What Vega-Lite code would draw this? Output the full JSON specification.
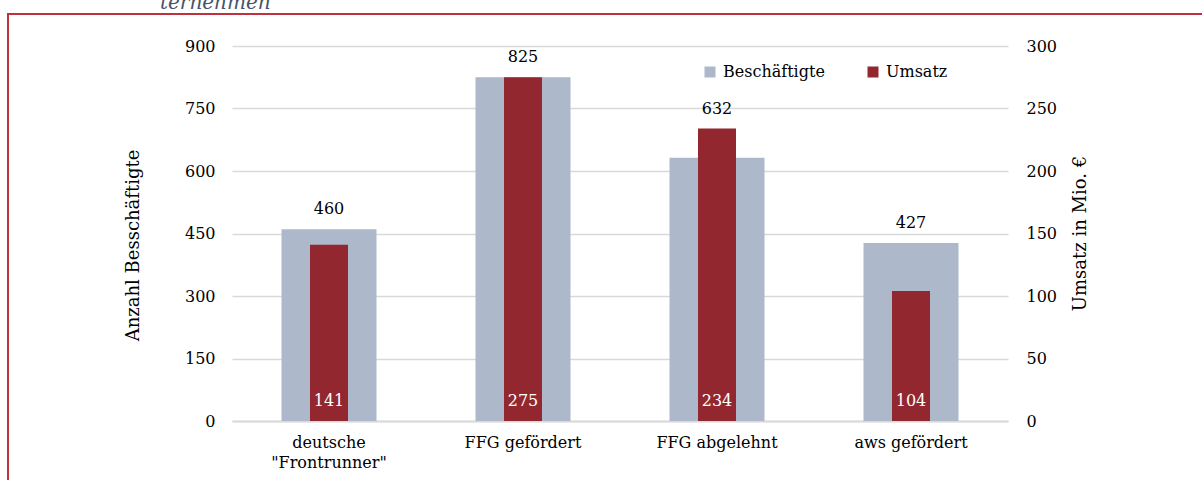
{
  "$schema": "https://vega.github.io/schema/vega-lite/v6.json",
  "width": 1198,
  "height": 470,
  "autosize": {"type": "none"},
  "padding": {"left": 8, "top": 14, "right": -4, "bottom": -4},
  "config": {
    "font": "DejaVu Serif",
    "view": {"stroke": "#C0313E", "strokeWidth": 2},
    "axis": {"labelFont": "DejaVu Serif", "titleFont": "DejaVu Serif", "labelFontSize": 16, "titleFontSize": 18, "labelColor": "#000000", "titleColor": "#000000", "titleFontWeight": "normal"},
    "legend": {"labelFont": "DejaVu Serif", "labelFontSize": 16, "labelColor": "#000000"}
  },
  "title": {
    "text": "ternehmen",
    "anchor": "start",
    "frame": "group",
    "dx": 152,
    "dy": 20,
    "offset": 5,
    "baseline": "alphabetic",
    "font": "DejaVu Serif",
    "fontStyle": "italic",
    "fontWeight": "normal",
    "fontSize": 20,
    "color": "#44546A"
  },
  "data": {
    "values": [
      {"kategorie": "deutsche \"Frontrunner\"", "beschaeftigte": 460, "umsatz": 141},
      {"kategorie": "FFG gefördert", "beschaeftigte": 825, "umsatz": 275},
      {"kategorie": "FFG abgelehnt", "beschaeftigte": 632, "umsatz": 234},
      {"kategorie": "aws gefördert", "beschaeftigte": 427, "umsatz": 104}
    ]
  },
  "encoding": {
    "x": {
      "field": "kategorie",
      "type": "nominal",
      "sort": null,
      "scale": {"range": [224, 1000], "paddingInner": 0, "paddingOuter": 0},
      "axis": {
        "orient": "bottom",
        "offset": -63,
        "title": null,
        "domainColor": "#D9D9D9",
        "domainWidth": 2,
        "ticks": false,
        "tickSize": 0,
        "grid": false,
        "labelAngle": 0,
        "labelPadding": 13,
        "labelBaseline": "top",
        "labelLineHeight": 20,
        "labelExpr": "datum.value == 'deutsche \"Frontrunner\"' ? ['deutsche', '\"Frontrunner\"'] : datum.label"
      }
    }
  },
  "layer": [
    {
      "mark": {"type": "bar", "size": 95},
      "encoding": {
        "y": {
          "field": "beschaeftigte",
          "type": "quantitative",
          "scale": {"domain": [0, 900], "range": [407, 32], "nice": false},
          "axis": {
            "orient": "left",
            "offset": -224,
            "values": [0, 150, 300, 450, 600, 750, 900],
            "grid": true,
            "gridColor": "#D9D9D9",
            "gridWidth": 1.5,
            "domain": false,
            "ticks": false,
            "tickSize": 0,
            "labelPadding": 17,
            "title": "Anzahl Besschäftigte",
            "titleX": -99,
            "titleY": 231,
            "titleAngle": -90,
            "titleAlign": "center",
            "titleBaseline": "middle"
          }
        },
        "color": {
          "datum": "Beschäftigte",
          "type": "nominal",
          "scale": {"domain": ["Beschäftigte", "Umsatz"], "range": ["#ADB9CA", "#93272F"]},
          "legend": {
            "title": null,
            "orient": "none",
            "legendX": 694,
            "legendY": 50,
            "direction": "horizontal",
            "symbolType": "square",
            "symbolSize": 121,
            "symbolStrokeWidth": 0,
            "labelOffset": 5,
            "columnPadding": 40,
            "padding": 0
          }
        }
      }
    },
    {
      "mark": {"type": "bar", "size": 38},
      "encoding": {
        "y": {
          "field": "umsatz",
          "type": "quantitative",
          "scale": {"domain": [0, 300], "range": [407, 32], "nice": false},
          "axis": {
            "orient": "right",
            "offset": -198,
            "values": [0, 50, 100, 150, 200, 250, 300],
            "grid": false,
            "domain": false,
            "ticks": false,
            "tickSize": 0,
            "labelPadding": 18,
            "title": "Umsatz in Mio. €",
            "titleX": 72,
            "titleY": 219,
            "titleAngle": -90,
            "titleAlign": "center",
            "titleBaseline": "middle"
          }
        },
        "color": {"datum": "Umsatz", "type": "nominal"}
      }
    },
    {
      "transform": [{"filter": "datum.kategorie != 'FFG abgelehnt'"}],
      "mark": {"type": "text", "baseline": "middle", "dy": -20, "fontSize": 16, "color": "#000000"},
      "encoding": {
        "y": {"field": "beschaeftigte", "type": "quantitative", "scale": {"domain": [0, 900], "range": [407, 32], "nice": false}, "axis": null},
        "text": {"field": "beschaeftigte", "type": "quantitative"}
      }
    },
    {
      "transform": [{"filter": "datum.kategorie == 'FFG abgelehnt'"}],
      "mark": {"type": "text", "baseline": "middle", "dy": -20, "fontSize": 16, "color": "#000000"},
      "encoding": {
        "y": {"field": "umsatz", "type": "quantitative", "scale": {"domain": [0, 300], "range": [407, 32], "nice": false}, "axis": null},
        "text": {"field": "beschaeftigte", "type": "quantitative"}
      }
    },
    {
      "mark": {"type": "text", "baseline": "middle", "dy": -20, "fontSize": 16, "color": "#FFFFFF"},
      "encoding": {
        "y": {"datum": 0, "type": "quantitative", "scale": {"domain": [0, 300], "range": [407, 32], "nice": false}, "axis": null},
        "text": {"field": "umsatz", "type": "quantitative"}
      }
    }
  ],
  "resolve": {"scale": {"y": "independent"}}
}
